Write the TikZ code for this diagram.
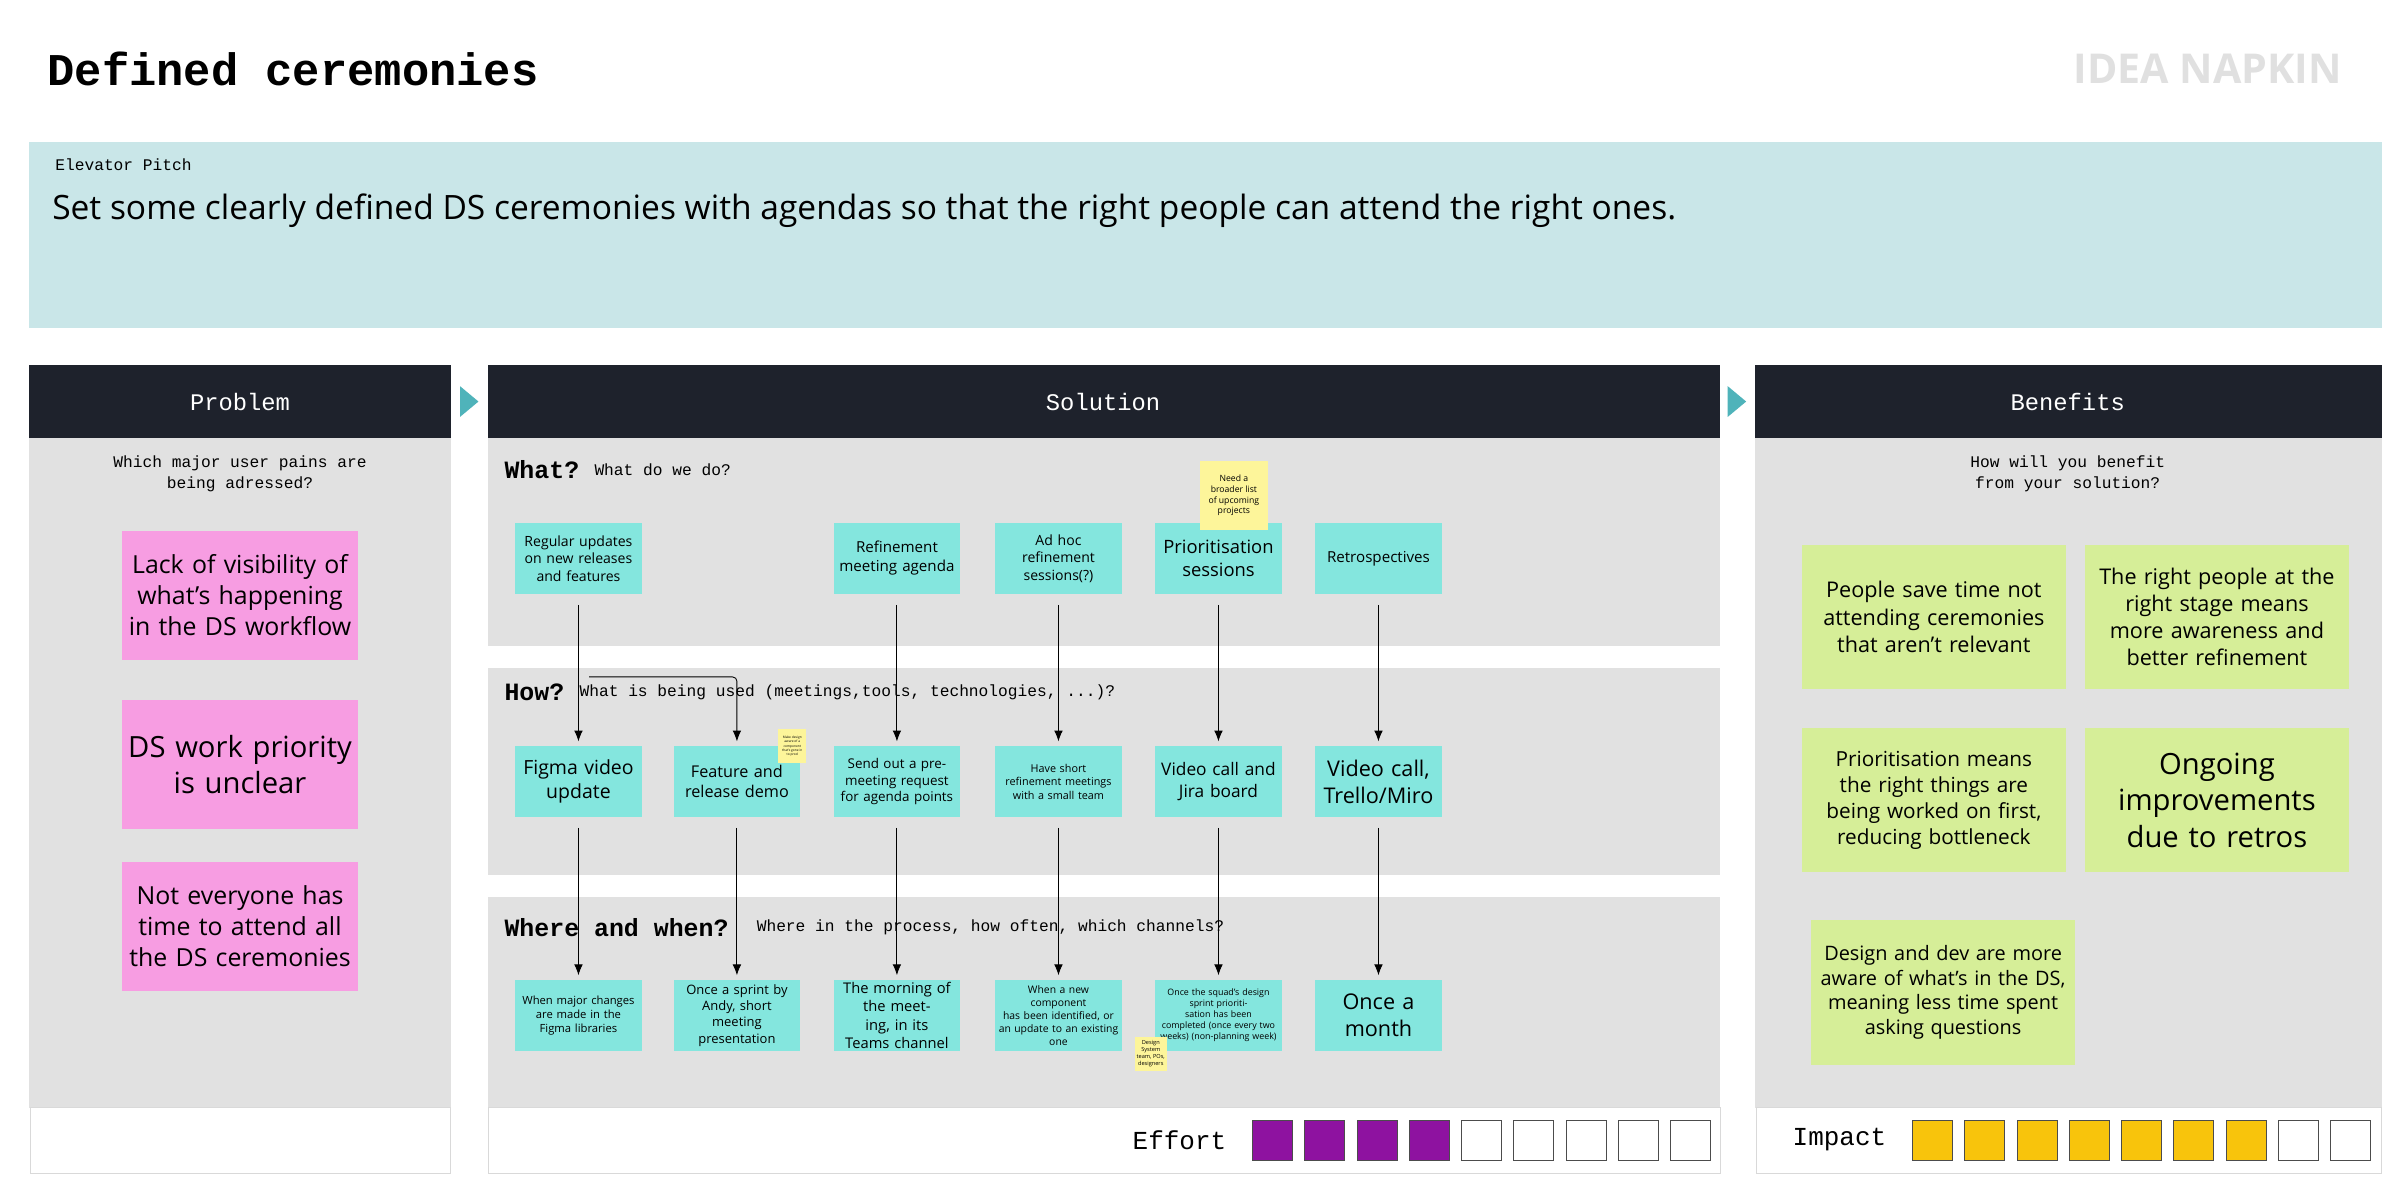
\documentclass[tikz,border=0pt]{standalone}
\usepackage{fontspec}
\setmainfont{Open Sans}
\setmonofont{Liberation Mono}
\usetikzlibrary{positioning, arrows.meta}

\definecolor{pitchbg}{HTML}{C9E6E8}
\definecolor{headbg}{HTML}{1E222C}
\definecolor{panelbg}{HTML}{E1E1E1}
\definecolor{pinknote}{HTML}{F79DE2}
\definecolor{tealnote}{HTML}{84E6DE}
\definecolor{greennote}{HTML}{D6EE98}
\definecolor{yellownote}{HTML}{FDF59A}
\definecolor{effortc}{HTML}{8E12A0}
\definecolor{impactc}{HTML}{F8C40C}
\definecolor{arrowteal}{HTML}{4FB3BA}
\newcommand{\fsz}[1]{\fontsize{#1}{1.25\dimexpr#1pt\relax}\selectfont}

\begin{document}
\begin{tikzpicture}[x=0.025cm, y=-0.025cm]
		\tikzstyle{note}=[rectangle, align=center, inner sep=1pt]
		\tikzstyle{solnote}=[note, fill=tealnote, minimum width=2.05cm, minimum height=1.15cm, text width=1.95cm]
		\tikzstyle{pinknote}=[note, fill=pinknote, minimum width=3.85cm, minimum height=2.1cm, text width=3.7cm]
		\tikzstyle{bennote}=[note, fill=greennote, minimum width=4.28cm, minimum height=2.35cm, text width=4.1cm]
		\tikzstyle{tinynote}=[note, fill=yellownote, align=center]
		\tikzstyle{head}=[text=white, font=\ttfamily\fsz{11}]
		\tikzstyle{flow}=[-{Latex[length=5pt, width=4pt]}, thin, shorten <=7pt*0.7, shorten >=2pt]
		\tikzstyle{box}=[draw=black!15, fill=white]

		\useasboundingbox (0,0) rectangle (1560,781);
		\fill[white] (0,0) rectangle (1560,781);

		% title and pitch
		\node[anchor=west, font=\ttfamily\bfseries\fsz{21}] (title) at (26,45) {Defined ceremonies};
		\node[anchor=east, text=black!12, font=\bfseries\fsz{19}] (napkin) at (1527,45) {IDEA NAPKIN};
		\fill[pitchbg] (19,92) rectangle (1548,213);
		\node[anchor=west, font=\ttfamily\fsz{7.5}] (pitchlabel) at (31,107) {Elevator Pitch};
		\node[anchor=west, font=\fsz{15.5}] (pitch) at (29,137)
			{Set some clearly defined DS ceremonies with agendas so that the right people can attend the right ones.};

		% panels
		\fill[headbg] (19,237) rectangle (293,285);
		\fill[panelbg] (19,285) rectangle (293,720);
		\draw[box] (19.5,720) rectangle (293,763);
		\fill[headbg] (317,237) rectangle (1118,285);
		\fill[panelbg] (317,285) rectangle (1118,420);
		\fill[panelbg] (317,434) rectangle (1118,569);
		\fill[panelbg] (317,583) rectangle (1118,720);
		\draw[box] (317.5,720) rectangle (1118,763);
		\fill[headbg] (1141,237) rectangle (1548,285);
		\fill[panelbg] (1141,285) rectangle (1548,720);
		\draw[box] (1141.5,720) rectangle (1548,763);
		\fill[arrowteal] (299,251) -- (311,261) -- (299,271) -- cycle;
		\fill[arrowteal] (1123,251) -- (1135,261) -- (1123,271) -- cycle;

		\node[head] (problem) at (156,261) {Problem};
		\node[head] (solution) at (717,261) {Solution};
		\node[head] (benefits) at (1344,261) {Benefits};

		% problem
		\node[align=center, font=\ttfamily\fsz{7.5}] (painq) at (156,308) {Which major user pains are\\being adressed?};
		\node[pinknote, font=\fsz{11.5}] (pain1) at (156,387) {Lack of visibility of\\what's happening\\in the DS workflow};
		\node[pinknote, font=\fsz{13.5}] (pain2) at (156,497) {DS work priority\\is unclear};
		\node[pinknote, font=\fsz{11.5}] (pain3) at (156,602) {Not everyone has\\time to attend all\\the DS ceremonies};

		% solution rows
		\node[anchor=west, font=\ttfamily\bfseries\fsz{11.5}] (what) at (323,305) {What?};
		\node[anchor=west, font=\ttfamily\fsz{7.5}] (whatq) at (what.east) {What do we do?};
		\node[anchor=west, font=\ttfamily\bfseries\fsz{11.5}] (how) at (323,450) {How?};
		\node[anchor=west, font=\ttfamily\fsz{7.5}] (howq) at (how.east) {What is being used (meetings,tools, technologies, ...)?};
		\node[anchor=west, font=\ttfamily\bfseries\fsz{11.5}] (where) at (323,603) {Where and when?};
		\node[anchor=west, font=\ttfamily\fsz{7.5}] (whereq) at ([xshift=6pt]where.east) {Where in the process, how often, which channels?};

		\node[solnote, font=\fsz{6.5}] (w1) at (376,363) {Regular updates\\on new releases\\and features};
		\node[solnote, font=\fsz{7}] (w2) at (583,363) {Refinement\\meeting agenda};
		\node[solnote, font=\fsz{6.5}] (w3) at (688,363) {Ad hoc\\refinement\\sessions(?)};
		\node[solnote, font=\fsz{8.5}] (w4) at (792,363) {Prioritisation\\sessions};
		\node[solnote, font=\fsz{7}] (w5) at (896,363) {Retrospectives};
		\node[tinynote, font=\fsz{4}, minimum width=1.1cm, minimum height=1.12cm] (broader) at (802,322) {Need a\\broader list\\of upcoming\\projects};

		\node[solnote, font=\fsz{9}] (h1) at (376,508) {Figma video\\update};
		\node[solnote, font=\fsz{7.5}] (h2) at (479,508) {Feature and\\release demo};
		\node[solnote, font=\fsz{6.2}] (h3) at (583,508) {Send out a pre-\\meeting request\\for agenda points};
		\node[solnote, font=\fsz{5}] (h4) at (688,508) {Have short\\refinement meetings\\with a small team};
		\node[solnote, font=\fsz{8}] (h5) at (792,508) {Video call and\\Jira board};
		\node[solnote, font=\fsz{10}] (h6) at (896,508) {Video call,\\Trello/Miro};
		\node[tinynote, font=\fsz{1.5}, minimum width=0.45cm, minimum height=0.55cm] (aware) at (515,485) {Make design\\aware of a\\component\\that's gone in\\to prod};

		\node[solnote, font=\fsz{5.2}] (e1) at (376,660) {When major changes\\are made in the\\Figma libraries};
		\node[solnote, font=\fsz{6}] (e2) at (479,660) {Once a sprint by\\Andy, short meeting\\presentation};
		\node[solnote, font=\fsz{6.8}] (e3) at (583,660) {The morning of\\the meeting, in its\\Teams channel};
		\node[solnote, font=\fsz{4.8}] (e4) at (688,660) {When a new component\\has been identified, or\\an update to an existing\\one};
		\node[solnote, font=\fsz{4.1}] (e5) at (792,660) {Once the squad's design\\sprint prioritisation has been\\completed (once every two\\weeks) (non-planning week)};
		\node[solnote, font=\fsz{10}] (e6) at (896,660) {Once a\\month};
		\node[tinynote, font=\fsz{2.6}, minimum width=0.5cm, minimum height=0.55cm] (team) at (748,685) {Design\\System\\team, POs,\\designers};

		\coordinate (split) at (376,440);
		\draw[flow] (w1) -- (h1);
		\draw[flow, rounded corners=2pt] (split) -| (h2);
		\draw[flow] (w2) -- (h3);
		\draw[flow] (w3) -- (h4);
		\draw[flow] (w4) -- (h5);
		\draw[flow] (w5) -- (h6);
		\foreach \i in {1,...,6}
			\draw[flow] (h\i) -- (e\i);

		% scores
		\node[anchor=east, font=\ttfamily\fsz{12}] (effort) at (802,741) {Effort};
		\foreach \k in {0,...,8} {
			\ifnum\k<4 \def\sc{effortc}\else\def\sc{white}\fi
			\filldraw[fill=\sc, draw=black!70] (814+\k*34,728) rectangle ++(26,26);
		}
		\node[anchor=east, font=\ttfamily\fsz{12}] (impact) at (1231,741) {Impact};
		\foreach \k in {0,...,8} {
			\ifnum\k<7 \def\sc{impactc}\else\def\sc{white}\fi
			\filldraw[fill=\sc, draw=black!70] (1243+\k*34,728) rectangle ++(26,26);
		}

		% benefits
		\node[align=center, font=\ttfamily\fsz{7.5}] (benq) at (1344,308) {How will you benefit\\from your solution?};
		\node[bennote, font=\fsz{10}] (b1) at (1257,401) {People save time not\\attending ceremonies\\that aren't relevant};
		\node[bennote, font=\fsz{10}] (b2) at (1441,401) {The right people at the\\right stage means\\more awareness and\\better refinement};
		\node[bennote, font=\fsz{9.6}] (b3) at (1257,520) {Prioritisation means\\the right things are\\being worked on first,\\reducing bottleneck};
		\node[bennote, font=\fsz{13.5}] (b4) at (1441,520) {Ongoing\\improvements\\due to retros};
		\node[bennote, font=\fsz{9.2}] (b5) at (1263,645) {Design and dev are more\\aware of what's in the DS,\\meaning less time spent\\asking questions};
	\end{tikzpicture}
\end{document}
